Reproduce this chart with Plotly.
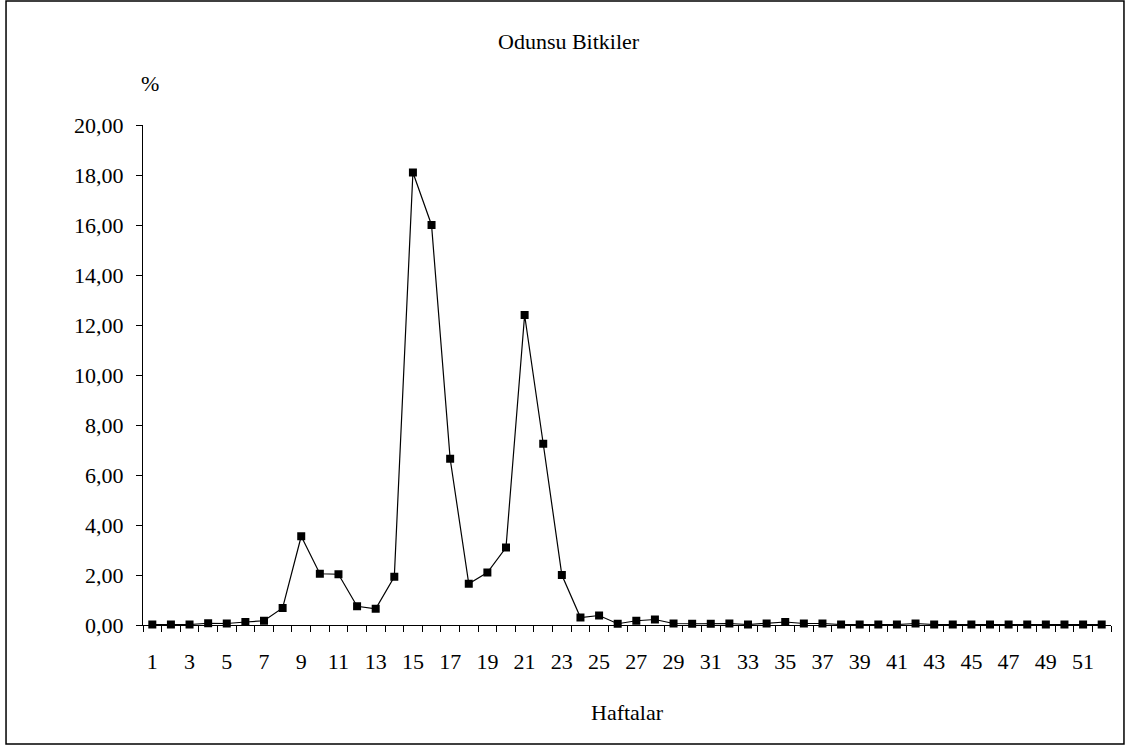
import plotly.graph_objects as go

weeks = list(range(1, 53))
values = [0.02, 0.02, 0.02, 0.07, 0.06, 0.12, 0.17, 0.68, 3.55, 2.05,
          2.03, 0.75, 0.65, 1.93, 18.1, 16.0, 6.65, 1.65, 2.1, 3.1,
          12.4, 7.25, 2.0, 0.3, 0.38, 0.05, 0.17, 0.22, 0.06, 0.05,
          0.05, 0.06, 0.02, 0.06, 0.12, 0.06, 0.06, 0.02, 0.02, 0.02,
          0.02, 0.06, 0.02, 0.02, 0.02, 0.02, 0.02, 0.02, 0.02, 0.02,
          0.02, 0.02]
x_tickvals = list(range(1, 53, 2))
x_ticktext = [str(v) for v in x_tickvals]
y_tickvals = list(range(0, 21, 2))

FONT = "'Times New Roman', 'Liberation Serif', 'DejaVu Serif', serif"
FS = 22

fig = go.Figure()
fig.add_trace(go.Scatter(
    x=weeks, y=values, mode="lines+markers",
    line=dict(color="black", width=1.2),
    marker=dict(symbol="square", size=8, color="black"),
    cliponaxis=False, showlegend=False,
))

fig.update_layout(
    width=1128, height=747,
    margin=dict(l=143, r=17, t=125, b=122),
    paper_bgcolor="white", plot_bgcolor="white",
    separators=",.",
    font=dict(family=FONT, size=FS, color="black"),
    xaxis=dict(
        range=[0.5, 52.5], tickvals=x_tickvals, ticktext=x_ticktext,
        ticks="", showgrid=False, zeroline=False,
        showline=True, linecolor="black", linewidth=1,
        tickfont=dict(family=FONT, size=FS), ticklabelstandoff=17,
        minor=dict(tickvals=[i + 0.5 for i in range(0, 53)], ticks="outside",
                   ticklen=6, tickcolor="black", tickwidth=1, showgrid=False),
    ),
    yaxis=dict(
        range=[0, 20], tickvals=y_tickvals, tickformat=".2f",
        ticks="outside", ticklen=6, tickcolor="black", tickwidth=1,
        showgrid=False, zeroline=False,
        showline=True, linecolor="black", linewidth=1,
        tickfont=dict(family=FONT, size=FS), ticklabelstandoff=8,
    ),
    shapes=[dict(type="rect", xref="paper", yref="paper",
                 x0=-0.1415, x1=1.0134, y0=-0.238, y1=1.248,
                 line=dict(color="black", width=1.5))],
    annotations=[
        dict(text="Odunsu Bitkiler", xref="paper", yref="paper", x=0.44, y=1.168,
             showarrow=False, font=dict(family=FONT, size=FS), xanchor="center", yanchor="middle"),
        dict(text="%", xref="paper", yref="paper", x=0.0072, y=1.083,
             showarrow=False, font=dict(family=FONT, size=FS), xanchor="center", yanchor="middle"),
        dict(text="Haftalar", xref="paper", yref="paper", x=0.5, y=-0.174,
             showarrow=False, font=dict(family=FONT, size=FS), xanchor="center", yanchor="middle"),
    ],
)

fig.write_html("out.html")
